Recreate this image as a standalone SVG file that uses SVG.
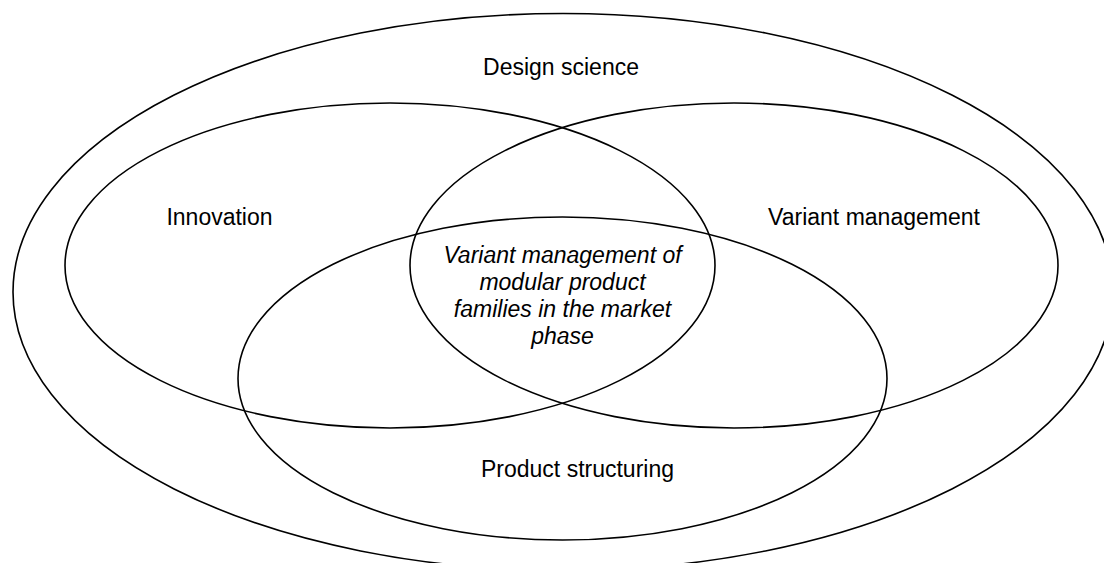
<svg xmlns="http://www.w3.org/2000/svg" width="1104" height="563" viewBox="0 0 1104 563">
<style>
.e{fill:none;stroke:#000;stroke-width:1.6}
.t{font-family:"Liberation Sans",Arial,sans-serif;font-size:23px;fill:#000;text-anchor:middle}
.i{font-style:italic}
</style>
<rect width="1104" height="563" fill="#fff"/>
<g id="design-science">
<ellipse class="e" cx="563" cy="292" rx="550" ry="278.5"/>
<text class="t" x="561" y="75">Design science</text>
</g>
<g id="innovation">
<ellipse class="e" cx="390" cy="265.5" rx="325" ry="162.5"/>
<text class="t" x="219.5" y="225">Innovation</text>
</g>
<g id="variant-management">
<ellipse class="e" cx="734" cy="265.5" rx="324" ry="162.5"/>
<text class="t" x="874" y="225">Variant management</text>
</g>
<g id="product-structuring">
<ellipse class="e" cx="562.5" cy="378.5" rx="324.5" ry="161.5"/>
<text class="t" x="577.5" y="476.5">Product structuring</text>
</g>
<g id="intersection">
<text class="t i" x="562.5" y="263">Variant management of</text>
<text class="t i" x="562.5" y="290">modular product</text>
<text class="t i" x="562.5" y="317">families in the market</text>
<text class="t i" x="562.5" y="344">phase</text>
</g>
<g id="connectors"/>
</svg>
